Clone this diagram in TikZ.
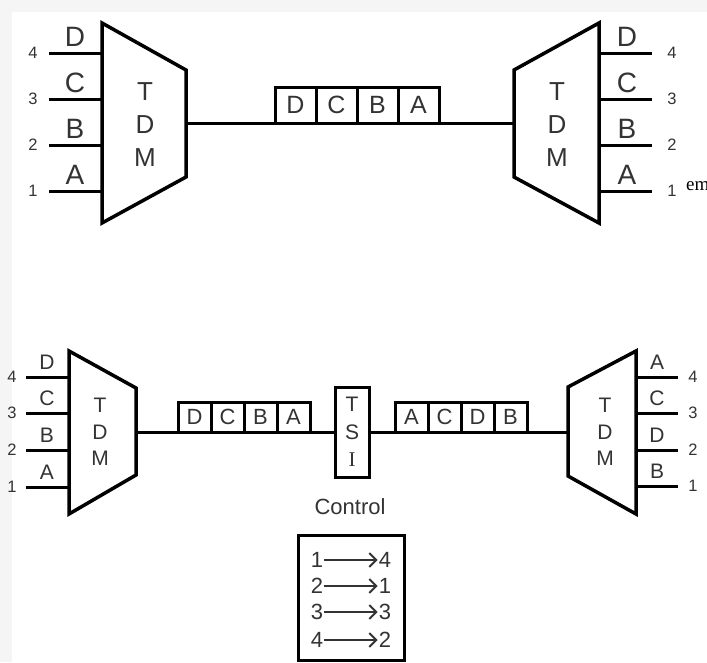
\documentclass[tikz,border=0pt]{standalone}
\usepackage{fontspec}
\setmainfont{Liberation Sans}
\newfontfamily\serifface{Liberation Serif}
\usetikzlibrary{arrows.meta, positioning}
\tikzset{
  mux/.style = {draw=black, line width=3.5pt, line join=miter},
  wire/.style = {draw=black, line width=3pt},
  slotbig/.style = {rectangle, draw=black, line width=3pt, fill=white, outer sep=0pt, inner sep=0pt, minimum width=41pt, minimum height=36pt, text=black!80, font=\fontsize{25}{25}\selectfont},
  slot/.style = {rectangle, draw=black, line width=3pt, fill=white, outer sep=0pt, inner sep=0pt, minimum width=33pt, minimum height=30pt, text=black!80, font=\fontsize{22}{22}\selectfont},
  tdmbig/.style = {align=center, inner sep=0pt, text=black!80, font=\fontsize{26}{33}\selectfont},
  tdm/.style = {align=center, inner sep=0pt, text=black!80, font=\fontsize{21}{26.5}\selectfont},
  chbig/.style = {inner sep=0pt, text=black!80, font=\fontsize{28}{28}\selectfont},
  ch/.style = {inner sep=0pt, text=black!80, font=\fontsize{21}{21}\selectfont},
  num/.style = {inner sep=0pt, text=black!80, font=\fontsize{16.5}{16.5}\selectfont},
  tsibox/.style = {rectangle, draw=black, line width=3pt, fill=white, outer sep=0pt, inner sep=0pt, minimum width=34pt, minimum height=90pt, align=center, text=black!80, font=\fontsize{21}{27.5}\selectfont},
  ctrlbox/.style = {rectangle, draw=black, line width=3pt, outer sep=0pt, minimum width=106pt, minimum height=125pt},
  digit/.style = {inner sep=1pt, text=black!80, font=\fontsize{22}{22}\selectfont},
  maparrow/.style = {-{Straight Barb[length=7pt, width=14pt]}, line width=2pt, black!80}
}
\begin{document}
\begin{tikzpicture}[x=1pt, y=-1pt]
\useasboundingbox (0,0) rectangle (707,662);
\fill[black!4] (0,0) rectangle (707,662);
\fill[white] (12,12) rectangle (707,662);

% top: multiplexer pair
\draw[mux] (102,23) -- (186,70) -- (186,177) -- (102,223) -- cycle;
\draw[mux] (599,23) -- (514,70) -- (514,177) -- (599,223) -- cycle;
\node[tdmbig] (tdmA) at (145,125) {T\\D\\M};
\node[tdmbig] (tdmB) at (557,125) {T\\D\\M};

\foreach \y/\l/\n in {53/D/4, 99/C/3, 145/B/2, 191/A/1} {
  \coordinate (srcA\n) at (49,\y);
  \coordinate (inA\n) at (102,\y);
  \draw[wire] (srcA\n) -- (inA\n);
  \node[chbig] (chA\n) at (75,\y-16) {\l};
  \node[num] (numA\n) at (33,\y) {\n};
  \coordinate (outB\n) at (599,\y);
  \coordinate (dstB\n) at (652,\y);
  \draw[wire] (outB\n) -- (dstB\n);
  \node[chbig] (chB\n) at (627,\y-16) {\l};
  \node[num] (numB\n) at (672,\y) {\n};
}
\node[font=\serifface\fontsize{19}{19}\selectfont, inner sep=0pt, anchor=west] (stray) at (686,186) {em};

\coordinate (muxAout) at (186,123);
\coordinate (muxBin) at (514,123);
\draw[wire] (muxAout) -- (muxBin);
\node[slotbig, anchor=south west] (fD) at (275,123) {D};
\node[slotbig, right=0pt of fD] (fC) {C};
\node[slotbig, right=0pt of fC] (fB) {B};
\node[slotbig, right=0pt of fB] (fA) {A};

% bottom: multiplexer pair with time slot interchange
\draw[mux] (69,351) -- (136,388) -- (136,475) -- (69,514) -- cycle;
\draw[mux] (636,351) -- (568,387) -- (568,476) -- (636,514) -- cycle;
\node[tdm] (tdmC) at (100,432) {T\\D\\M};
\node[tdm] (tdmD) at (605,432) {T\\D\\M};

\foreach \y/\l/\n in {377/D/4, 413/C/3, 450/B/2, 487/A/1} {
  \coordinate (srcC\n) at (26,\y);
  \coordinate (inC\n) at (69,\y);
  \draw[wire] (srcC\n) -- (inC\n);
  \node[ch] (chC\n) at (47,\y-15) {\l};
  \node[num] (numC\n) at (12,\y) {\n};
}
\foreach \y/\l/\n in {377/A/4, 413/C/3, 450/D/2, 486/B/1} {
  \coordinate (outD\n) at (636,\y);
  \coordinate (dstD\n) at (678,\y);
  \draw[wire] (outD\n) -- (dstD\n);
  \node[ch] (chD\n) at (657,\y-15) {\l};
  \node[num] (numD\n) at (693,\y) {\n};
}

\node[tsibox] (tsi) at (352,432) {T\\S\\{\serifface I}};
\coordinate (muxCout) at (136,432);
\coordinate (muxDin) at (568,432);
\draw[wire] (muxCout) -- (tsi.west);
\draw[wire] (tsi.east) -- (muxDin);

\node[slot, anchor=south west] (gD) at (178,432) {D};
\node[slot, right=0pt of gD] (gC) {C};
\node[slot, right=0pt of gC] (gB) {B};
\node[slot, right=0pt of gB] (gA) {A};

\node[slot, anchor=south west] (hA) at (395,432) {A};
\node[slot, right=0pt of hA] (hC) {C};
\node[slot, right=0pt of hC] (hD) {D};
\node[slot, right=0pt of hD] (hB) {B};

% control map
\node[digit] (ctrlLbl) at (350,507) {Control};
\node[ctrlbox] (ctrl) at (351,597.5) {};
\foreach \i/\a/\b/\y in {1/1/4/560, 2/2/1/586, 3/3/3/612, 4/4/2/640} {
  \node[digit] (from\i) at (317,\y) {\a};
  \node[digit] (to\i) at (385,\y) {\b};
  \draw[maparrow] (from\i) -- (to\i);
}
\end{tikzpicture}
\end{document}
